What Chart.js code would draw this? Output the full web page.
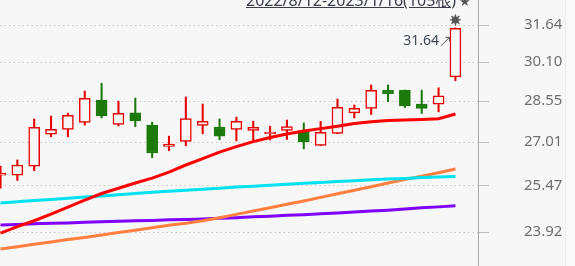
<!DOCTYPE html>
<html>
<head>
<meta charset="utf-8">
<script src="https://cdn.jsdelivr.net/npm/chart.js@4"></script>
<style>
  html, body { margin: 0; padding: 0; background: #f7f7f7; }
  #wrap { position: relative; width: 575px; height: 266px; overflow: hidden; }
  #range { position: absolute; left: 246px; top: -8px; font: 16px 'Noto Sans', 'Noto Sans CJK SC', sans-serif; line-height: 16px; color: #3a3d4a; text-decoration: underline; white-space: nowrap; }
  #star { position: absolute; left: 459px; top: -5px; font: 13px 'DejaVu Sans', sans-serif; line-height: 13px; color: #555; }
  #edge { position: absolute; left: 565px; top: 0; width: 10px; height: 266px; background: #fafafa; border-left: 1px solid #ececec; }
</style>
</head>
<body>
<div id="wrap">
  <canvas id="klineChart"></canvas>
  <div id="edge"></div>
  <div id="range">2022/8/12-2023/1/16(105根)</div>
  <div id="star">★</div>
</div>
<script>
// candles, oldest first (only the visible tail of the 105 bars)
const opens  = [25.83, 25.83, 26.15, 27.30, 27.48, 27.74, 28.59, 27.67, 28.10, 27.64, 26.86, 27.04, 27.63, 27.57, 27.48, 27.44, 27.31, 27.44, 27.43, 26.89, 27.33, 28.10, 28.27, 28.97, 28.98, 28.44, 28.43, 29.50];
const closes = [25.87, 26.19, 27.56, 27.48, 28.01, 28.66, 27.99, 28.08, 27.80, 26.62, 26.94, 27.89, 27.78, 27.23, 27.78, 27.56, 27.38, 27.59, 27.02, 27.37, 28.31, 28.27, 28.97, 28.84, 28.37, 28.27, 28.76, 31.50];
const highs  = [26.15, 26.37, 27.87, 27.98, 28.09, 28.94, 29.25, 28.55, 28.67, 27.75, 27.23, 28.71, 28.44, 27.87, 27.94, 27.79, 27.60, 27.83, 27.72, 27.78, 28.63, 28.40, 29.18, 29.18, 28.98, 28.98, 29.07, 31.52];
const lows   = [25.38, 25.65, 25.99, 27.21, 27.21, 27.64, 27.91, 27.61, 27.58, 26.45, 26.70, 26.88, 27.32, 27.10, 27.06, 27.09, 27.09, 27.11, 26.77, 26.88, 27.32, 27.91, 28.04, 28.53, 28.30, 28.08, 28.14, 29.35];

// moving averages
const ma1 = [23.89, 24.10, 24.29, 24.51, 24.74, 24.98, 25.20, 25.38, 25.56, 25.73, 25.94, 26.19, 26.42, 26.65, 26.85, 27.03, 27.18, 27.31, 27.42, 27.51, 27.60, 27.70, 27.77, 27.81, 27.83, 27.85, 27.88, 28.06];
const ma2 = [24.88, 24.92, 24.96, 25.00, 25.04, 25.08, 25.12, 25.16, 25.20, 25.24, 25.28, 25.31, 25.35, 25.38, 25.42, 25.45, 25.48, 25.52, 25.55, 25.58, 25.61, 25.64, 25.67, 25.70, 25.72, 25.75, 25.77, 25.79];
const ma3 = [23.38, 23.45, 23.53, 23.60, 23.68, 23.75, 23.83, 23.91, 23.98, 24.06, 24.14, 24.21, 24.29, 24.39, 24.50, 24.61, 24.72, 24.84, 24.95, 25.07, 25.19, 25.31, 25.43, 25.56, 25.68, 25.80, 25.92, 26.05];
const ma4 = [24.15, 24.17, 24.19, 24.21, 24.22, 24.24, 24.26, 24.27, 24.29, 24.30, 24.32, 24.33, 24.35, 24.37, 24.39, 24.42, 24.44, 24.47, 24.49, 24.52, 24.55, 24.58, 24.61, 24.64, 24.68, 24.72, 24.75, 24.79];

const yTicks = [23.92, 25.47, 27.01, 28.55, 30.10, 31.64];
const peakLabel = '31.64';

const UP = '#e60000';
const DOWN = '#1c7a0c';
const BG = '#f7f7f7';

const idx = opens.map((_, i) => i);
const isUp = i => closes[i] >= opens[i];
const lineData = arr => arr.map((v, i) => ({ x: i, y: v }));

const peakMarker = {
    id: 'peakMarker',
    afterDatasetsDraw(chart) {
        const { ctx, scales: { x, y } } = chart;
        const i = highs.length - 1;
        const px = x.getPixelForValue(i);
        const py = y.getPixelForValue(highs[i]);
        ctx.save();
        // burst marker above the last bar
        const cx = px, cy = py - 8;
        ctx.fillStyle = '#555';
        ctx.beginPath();
        ctx.arc(cx, cy, 3.5, 0, Math.PI * 2);
        ctx.fill();
        ctx.strokeStyle = '#555';
        ctx.lineWidth = 1.4;
        ctx.beginPath();
        for (let k = 0; k < 8; k++) {
            const a = k * Math.PI / 4;
            ctx.moveTo(cx + Math.cos(a) * 3, cy + Math.sin(a) * 3);
            ctx.lineTo(cx + Math.cos(a) * 5.5, cy + Math.sin(a) * 5.5);
        }
        ctx.stroke();
        // max label with arrow
        ctx.font = '14px "Noto Sans", sans-serif';
        ctx.fillStyle = '#3d4857';
        ctx.textAlign = 'right';
        ctx.textBaseline = 'middle';
        ctx.fillText(peakLabel, px - 16.5, py + 13);
        ctx.strokeStyle = '#555';
        ctx.lineWidth = 1;
        const x1 = px - 14.5, y1 = py + 18, x2 = px - 6, y2 = py + 9.5;
        ctx.beginPath();
        ctx.moveTo(x1, y1);
        ctx.lineTo(x2, y2);
        ctx.moveTo(x2 - 4, y2);
        ctx.lineTo(x2, y2);
        ctx.lineTo(x2, y2 + 4);
        ctx.stroke();
        ctx.restore();
    }
};

const ctxEl = document.getElementById('klineChart');
new Chart(ctxEl, {
    type: 'bar',
    data: {
        datasets: [{
            label: 'ma1',
            type: 'line',
            data: lineData(ma1),
            borderColor: '#ff0000',
            borderWidth: 3,
            pointRadius: 0,
            order: 0
        }, {
            label: 'ma2',
            type: 'line',
            data: lineData(ma2),
            borderColor: '#00e2f2',
            borderWidth: 3,
            pointRadius: 0,
            order: 0
        }, {
            label: 'ma3',
            type: 'line',
            data: lineData(ma3),
            borderColor: '#ff7f40',
            borderWidth: 3,
            pointRadius: 0,
            order: 0
        }, {
            label: 'ma4',
            type: 'line',
            data: lineData(ma4),
            borderColor: '#8000ff',
            borderWidth: 3,
            pointRadius: 0,
            order: 0
        }, {
            label: 'body',
            data: idx.map(i => ({ x: i, y: [opens[i], closes[i]] })),
            backgroundColor: idx.map(i => isUp(i) ? BG : DOWN),
            borderColor: idx.map(i => isUp(i) ? UP : DOWN),
            borderWidth: 1.5,
            borderSkipped: false,
            barThickness: 11,
            minBarLength: 2,
            grouped: false,
            order: 1
        }, {
            label: 'wick',
            data: idx.map(i => ({ x: i, y: [lows[i], highs[i]] })),
            backgroundColor: idx.map(i => isUp(i) ? UP : DOWN),
            barThickness: 1.4,
            grouped: false,
            order: 2
        }]
    },
    options: {
        responsive: true,
        maintainAspectRatio: false,
        animation: false,
        layout: { padding: 0 },
        plugins: {
            legend: { display: false },
            tooltip: { enabled: false }
        },
        scales: {
            x: { type: 'linear', min: -0.03, max: 28.34, offset: false, display: false },
            y: {
                type: 'logarithmic',
                position: 'right',
                min: 22.85,
                max: 32.73,
                beginAtZero: false,
                afterBuildTicks: s => { s.ticks = yTicks.map(v => ({ value: v })); },
                afterFit: s => { s.width = 97; s.paddingTop = 0; s.paddingBottom = 0; },
                ticks: {
                    callback: v => Number(v).toFixed(2),
                    color: '#707070',
                    font: { family: 'Noto Sans', size: 15 },
                    padding: 35,
                    autoSkip: false
                },
                grid: {
                    color: '#c8c8c8',
                    tickLength: 11,
                    tickColor: '#bdbdbd',
                    tickBorderDash: []
                },
                border: { display: true, color: '#aaaaaa', width: 1, dash: [1.5, 3] }
            }
        }
    },
    plugins: [peakMarker]
});
</script>
</body>
</html>
